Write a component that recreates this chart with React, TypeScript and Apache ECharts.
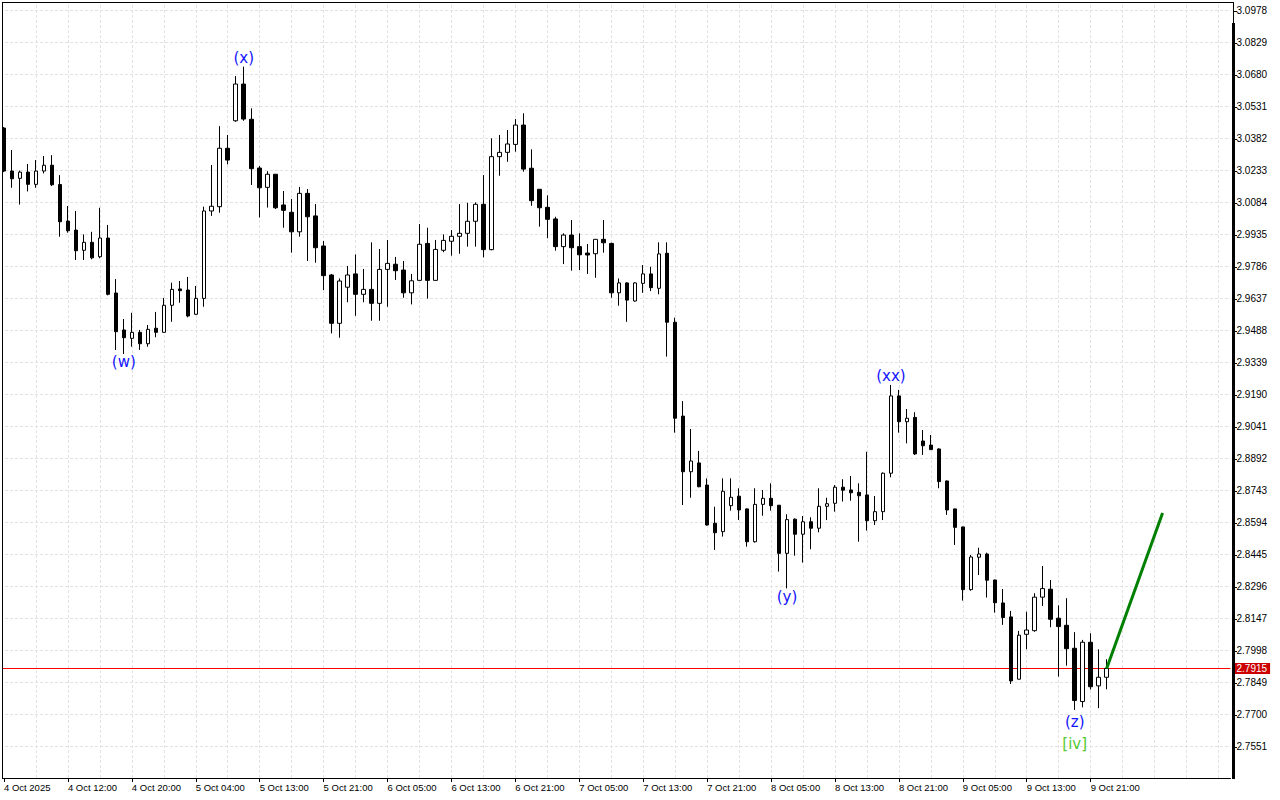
import React, { useEffect, useRef } from "react";
import * as echarts from "echarts";

// ---------- data ----------
const xTickLabels = [
  "4 Oct 2025", "4 Oct 12:00", "4 Oct 20:00", "5 Oct 04:00", "5 Oct 13:00", "5 Oct 21:00",
  "6 Oct 05:00", "6 Oct 13:00", "6 Oct 21:00", "7 Oct 05:00", "7 Oct 13:00", "7 Oct 21:00",
  "8 Oct 05:00", "8 Oct 13:00", "8 Oct 21:00", "9 Oct 05:00", "9 Oct 13:00", "9 Oct 21:00",
];
const BARS_PER_LABEL = 8;
const SLOT_COUNT = 154;

const yTicks = [
  3.0978, 3.0829, 3.068, 3.0531, 3.0382, 3.0233, 3.0084, 2.9935, 2.9786, 2.9637, 2.9488, 2.9339,
  2.919, 2.9041, 2.8892, 2.8743, 2.8594, 2.8445, 2.8296, 2.8147, 2.7998, 2.7849, 2.77, 2.7551,
];
const Y_MIN = 2.7405;
const Y_MAX = 3.1018;

// OHLC rows: [open, high, low, close]
const ohlc: number[][] = [
  [3.0431, 3.0436, 3.0226, 3.0231], [3.0231, 3.0329, 3.0153, 3.0195], [3.0197, 3.0233, 3.0075, 3.0226],
  [3.0226, 3.0264, 3.0136, 3.0169], [3.0169, 3.0282, 3.0153, 3.0231], [3.0231, 3.0301, 3.022, 3.0258],
  [3.0258, 3.0305, 3.0161, 3.0167], [3.0168, 3.0212, 2.9925, 2.9995], [2.9998, 3.0068, 2.9944, 2.9953],
  [2.9956, 3.0045, 2.9817, 2.986], [2.9862, 2.9936, 2.9817, 2.9899], [2.9899, 2.9948, 2.982, 2.9827],
  [2.9832, 3.006, 2.9825, 2.9919], [2.9919, 2.998, 2.9652, 2.9657], [2.9663, 2.9728, 2.9398, 2.9483],
  [2.9491, 2.9542, 2.9379, 2.9455], [2.9452, 2.9571, 2.9413, 2.948], [2.948, 2.9491, 2.9398, 2.9427],
  [2.9427, 2.9514, 2.9413, 2.9494], [2.9499, 2.9575, 2.9457, 2.948], [2.948, 2.964, 2.9479, 2.9606],
  [2.9606, 2.9711, 2.9529, 2.968], [2.9682, 2.9719, 2.9618, 2.9674], [2.9677, 2.9738, 2.955, 2.9556],
  [2.9564, 2.9696, 2.9561, 2.9638], [2.9638, 3.0065, 2.9599, 3.0045], [3.0045, 3.0259, 3.0022, 3.0067],
  [3.0065, 3.044, 3.0037, 3.0337], [3.0337, 3.0399, 3.0262, 3.0282], [3.0465, 3.0673, 3.046, 3.0636],
  [3.0636, 3.0717, 3.0465, 3.0473], [3.0472, 3.0523, 3.0166, 3.0242], [3.0245, 3.0254, 3.0015, 3.0153],
  [3.0155, 3.023, 3.0061, 3.0216], [3.0216, 3.0217, 3.0054, 3.006], [3.0073, 3.0138, 2.9967, 3.0048],
  [3.0039, 3.0101, 2.9851, 2.9948], [2.9948, 3.0157, 2.9925, 3.0127], [3.0127, 3.0147, 2.9812, 3.0018],
  [3.0022, 3.0077, 2.9804, 2.9874], [2.9882, 2.9905, 2.9677, 2.9744], [2.9747, 2.9752, 2.9475, 2.9522],
  [2.9522, 2.9731, 2.9455, 2.9719], [2.969, 2.9789, 2.962, 2.9747], [2.9752, 2.9843, 2.9557, 2.9657],
  [2.9657, 2.9775, 2.962, 2.968], [2.968, 2.9899, 2.9534, 2.9615], [2.9615, 2.9868, 2.9534, 2.9773],
  [2.9773, 2.991, 2.9599, 2.9801], [2.9797, 2.9831, 2.9724, 2.9767], [2.977, 2.9812, 2.9641, 2.9664],
  [2.9664, 2.9752, 2.961, 2.972], [2.9722, 2.9984, 2.9721, 2.989], [2.9894, 2.9967, 2.9637, 2.9722],
  [2.9722, 2.991, 2.9721, 2.9866], [2.9862, 2.9936, 2.9853, 2.9908], [2.9904, 2.9956, 2.9837, 2.9927],
  [2.9927, 3.0077, 2.9846, 2.9941], [2.9941, 3.0083, 2.9879, 2.9997], [2.9997, 3.0085, 2.9879, 3.0076],
  [3.0076, 3.0212, 2.9829, 2.9865], [2.9865, 3.0383, 2.9862, 3.0298], [3.0298, 3.0399, 3.0209, 3.0318],
  [3.0318, 3.0422, 3.0274, 3.0357], [3.0355, 3.0473, 3.0321, 3.0445], [3.0445, 3.05, 3.0228, 3.024],
  [3.0244, 3.0332, 3.0069, 3.0093], [3.0146, 3.0147, 2.9972, 3.006], [3.0062, 3.0118, 2.9918, 3.0006],
  [3.0008, 3.0018, 2.986, 2.9879], [2.9879, 2.9941, 2.9798, 2.9933], [2.9933, 3.0003, 2.9767, 2.9874],
  [2.9879, 2.9941, 2.977, 2.9841], [2.9849, 2.9891, 2.9752, 2.984], [2.9846, 2.9914, 2.9734, 2.9913],
  [2.9913, 3.0003, 2.9851, 2.9897], [2.9894, 2.9897, 2.9641, 2.9664], [2.9664, 2.9731, 2.9604, 2.971],
  [2.971, 2.9713, 2.9529, 2.963], [2.9626, 2.9713, 2.9623, 2.971], [2.9708, 2.9793, 2.9664, 2.9752],
  [2.9752, 2.9785, 2.9672, 2.9688], [2.9685, 2.9899, 2.9657, 2.9845], [2.9848, 2.9899, 2.9367, 2.9527],
  [2.9527, 2.9548, 2.9013, 2.908], [2.909, 2.916, 2.8676, 2.8831], [2.8831, 2.903, 2.871, 2.8881],
  [2.8872, 2.8928, 2.8759, 2.8761], [2.8769, 2.88, 2.858, 2.8583], [2.8591, 2.8668, 2.8467, 2.8547],
  [2.8552, 2.88, 2.8529, 2.874], [2.8673, 2.88, 2.865, 2.8712], [2.8717, 2.8754, 2.8606, 2.8653],
  [2.8658, 2.866, 2.8482, 2.8505], [2.8505, 2.8754, 2.8501, 2.8679], [2.8679, 2.8746, 2.8626, 2.8707],
  [2.8707, 2.8777, 2.865, 2.8673], [2.8675, 2.8676, 2.8366, 2.8451], [2.8451, 2.8633, 2.8288, 2.8608],
  [2.861, 2.8614, 2.844, 2.854], [2.854, 2.8625, 2.8408, 2.8598], [2.8598, 2.8619, 2.847, 2.8568],
  [2.8568, 2.8754, 2.8549, 2.867], [2.867, 2.871, 2.8606, 2.8682], [2.8684, 2.8769, 2.8645, 2.8759],
  [2.8759, 2.8796, 2.8692, 2.8745], [2.8746, 2.8811, 2.8696, 2.8733], [2.8735, 2.8777, 2.8505, 2.8719],
  [2.8723, 2.8924, 2.8557, 2.8603], [2.8603, 2.8718, 2.8583, 2.8645], [2.8645, 2.8828, 2.8606, 2.8824],
  [2.8824, 2.9235, 2.8805, 2.9184], [2.9184, 2.9212, 2.9013, 2.9064], [2.9064, 2.9123, 2.8963, 2.908],
  [2.9084, 2.9108, 2.8909, 2.8914], [2.8974, 2.9025, 2.8909, 2.8952], [2.8955, 2.9002, 2.8932, 2.8934],
  [2.8937, 2.894, 2.8754, 2.8785], [2.8788, 2.879, 2.863, 2.8653], [2.8658, 2.8659, 2.849, 2.8572],
  [2.8574, 2.8575, 2.8231, 2.8282], [2.8282, 2.8443, 2.8277, 2.8434], [2.8433, 2.8477, 2.835, 2.8448],
  [2.8448, 2.8454, 2.8245, 2.8326], [2.8327, 2.8328, 2.8175, 2.8221], [2.822, 2.8285, 2.8118, 2.8152],
  [2.8155, 2.8183, 2.7843, 2.7857], [2.7865, 2.809, 2.7864, 2.807], [2.8074, 2.8179, 2.8004, 2.8094],
  [2.8091, 2.8265, 2.8086, 2.8247], [2.8247, 2.8392, 2.8206, 2.8287], [2.8284, 2.8327, 2.8107, 2.8144],
  [2.8149, 2.8209, 2.7877, 2.811], [2.8116, 2.8242, 2.7928, 2.8007], [2.8009, 2.8084, 2.7722, 2.7766],
  [2.7761, 2.8048, 2.7734, 2.8037], [2.8037, 2.8079, 2.7817, 2.783], [2.7834, 2.8004, 2.773, 2.7874],
  [2.7874, 2.7958, 2.7818, 2.7915],
];

const currentPrice = 2.7915;

// forecast line: [bar index, price]
const forecastLine = [
  [138, 2.7915],
  [145, 2.8639],
];

const waveLabels = [
  { text: "(w)", bar: 15, price: 2.9342, color: "#1414ff" },
  { text: "(x)", bar: 30, price: 3.0757, color: "#1414ff" },
  { text: "(y)", bar: 98, price: 2.8248, color: "#1414ff" },
  { text: "(xx)", bar: 111, price: 2.9277, color: "#1414ff" },
  { text: "(z)", bar: 134, price: 2.7666, color: "#1414ff" },
  { text: "[iv]", bar: 134, price: 2.7564, color: "#56c832" },
];

const AXIS_FONT = "Liberation Sans, Arial, sans-serif";
const WAVE_FONT = "DejaVu Sans, Verdana, sans-serif";

export default function App() {
  const ref = useRef<HTMLDivElement>(null);

  useEffect(() => {
    if (!ref.current) return;
    const chart = echarts.init(ref.current, null, { renderer: "svg" });

    const categories = Array.from({ length: SLOT_COUNT }, (_, i) => String(i));
    const candleData = ohlc.map(([o, h, l, c]) => [o, c, l, h]);
    const closeLine = ohlc.map(([, , , c], i) => [i, c]);
    const vGridIdx = categories.map((_, i) => i).filter((i) => i > 0 && i % 4 === 0);
    const isLabelIdx = (i: number) =>
      i % BARS_PER_LABEL === 0 && i / BARS_PER_LABEL < xTickLabels.length;

    const option: any = {
      animation: false,
      backgroundColor: "#ffffff",
      grid: { left: -1.5, right: 49.5, top: 2, bottom: 22, containLabel: false },
      xAxis: {
        type: "category",
        data: categories,
        boundaryGap: true,
        axisLine: { show: true, lineStyle: { color: "#000", width: 1 } },
        axisTick: {
          show: true,
          alignWithLabel: true,
          interval: (i: number) => isLabelIdx(i),
          length: 4,
          lineStyle: { color: "#000" },
        },
        axisLabel: {
          show: true,
          interval: (i: number) => isLabelIdx(i),
          formatter: (_v: string, i: number) => xTickLabels[Math.round(i / BARS_PER_LABEL)] ?? "",
          align: "left",
          margin: 4,
          color: "#000",
          fontSize: 9.5,
          fontFamily: AXIS_FONT,
        },
        splitLine: { show: false },
      },
      yAxis: {
        type: "value",
        position: "right",
        min: Y_MIN,
        max: Y_MAX,
        scale: true,
        axisLine: { show: false },
        axisTick: { show: false },
        axisLabel: { show: false },
        splitLine: { show: false },
      },
      series: [
        {
          name: "grid",
          type: "line",
          data: closeLine,
          symbol: "none",
          silent: true,
          z: 0,
          lineStyle: { opacity: 0, width: 0 },
          markLine: {
            silent: true,
            precision: 4,
            z: 0,
            symbol: ["none", "none"],
            animation: false,
            lineStyle: { color: "#e2e2e2", type: [3, 2], width: 1 },
            label: { show: false },
            emphasis: { disabled: true },
            data: [
              ...yTicks.map((v) => ({
                yAxis: v,
                label: {
                  show: true,
                  position: "end",
                  distance: 6,
                  formatter: v.toFixed(4),
                  color: "#000",
                  fontSize: 10,
                  fontFamily: AXIS_FONT,
                },
              })),
              ...vGridIdx.map((i) => ({ xAxis: i })),
            ],
          },
        },
        {
          name: "price",
          type: "candlestick",
          data: candleData,
          barWidth: 4,
          z: 3,
          itemStyle: {
            color: "#ffffff",
            color0: "#000000",
            borderColor: "#000000",
            borderColor0: "#000000",
            borderWidth: 1,
          },
          markLine: {
            silent: true,
            precision: 4,
            symbol: ["none", "none"],
            animation: false,
            z: 2,
            lineStyle: { color: "#ff0000", type: "solid", width: 1 },
            data: [
              {
                yAxis: currentPrice,
                label: {
                  show: true,
                  position: "end",
                  distance: 3,
                  formatter: currentPrice.toFixed(4),
                  color: "#ffffff",
                  backgroundColor: "#cc0000",
                  padding: [1, 3, 0, 3],
                  fontSize: 10,
                  fontFamily: AXIS_FONT,
                },
              },
            ],
          },
        },
        {
          name: "forecast",
          type: "line",
          data: forecastLine,
          symbol: "none",
          z: 6,
          lineStyle: { color: "#008000", width: 3 },
        },
        {
          name: "waves",
          type: "scatter",
          z: 7,
          symbolSize: 0,
          itemStyle: { color: "rgba(0,0,0,0)", opacity: 1 },
          data: waveLabels.map((w) => ({
            value: [w.bar, w.price],
            label: {
              show: true,
              position: "inside",
              formatter: w.text,
              color: w.color,
              opacity: 1,
              fontSize: 15,
              fontFamily: WAVE_FONT,
            },
          })),
        },
      ],
    };

    chart.setOption(option);

    const tickMarks = yTicks.map((v) => {
      const y = Math.round(chart.convertToPixel({ yAxisIndex: 0 }, v) as number) + 0.5;
      return {
        type: "line",
        z: 101,
        shape: { x1: 1233, y1: y, x2: 1237, y2: y },
        style: { stroke: "#000", lineWidth: 1 },
        silent: true,
      };
    });

    chart.setOption({
      graphic: [
        { type: "rect", z: 100, silent: true, shape: { x: 0, y: 0, width: 2, height: 800 }, style: { fill: "#fff" } },
        { type: "line", z: 101, silent: true, shape: { x1: 2.5, y1: 2, x2: 2.5, y2: 779 }, style: { stroke: "#000", lineWidth: 1 } },
        { type: "line", z: 101, silent: true, shape: { x1: 2, y1: 2.5, x2: 1234, y2: 2.5 }, style: { stroke: "#000", lineWidth: 1 } },
        { type: "line", z: 101, silent: true, shape: { x1: 1233.5, y1: 2, x2: 1233.5, y2: 24 }, style: { stroke: "#000", lineWidth: 1 } },
        { type: "rect", z: 101, silent: true, shape: { x: 1232, y: 23, width: 3, height: 756 }, style: { fill: "#000" } },
        ...tickMarks,
      ],
    });

    return () => chart.dispose();
  }, []);

  return (
    <div
      ref={ref}
      style={{ position: "absolute", left: 0, top: 0, width: 1280, height: 800, background: "#fff" }}
    />
  );
}
